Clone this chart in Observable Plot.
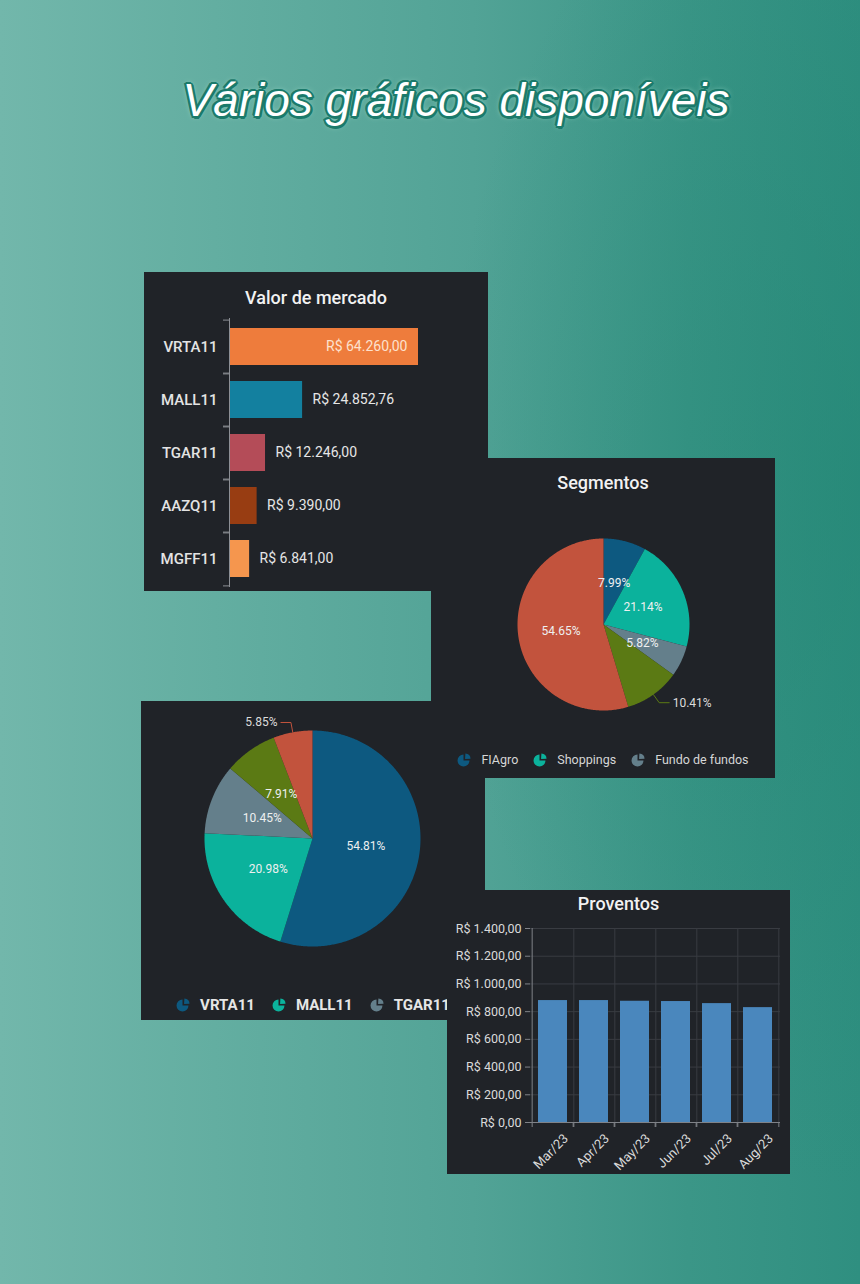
<!DOCTYPE html>
<html>
<head>
<meta charset="utf-8">
<script src="https://cdn.jsdelivr.net/npm/d3@7"></script>
<script src="https://cdn.jsdelivr.net/npm/@observablehq/plot@0.6"></script>
<style>
html, body { margin: 0; padding: 0; }
body {
  width: 860px; height: 1284px; position: relative; overflow: hidden;
  font-family: Roboto, "Noto Sans", sans-serif;
  background:
    radial-gradient(ellipse 420px 700px at 100% 38%, rgba(34,134,116,0.55), rgba(34,134,116,0) 100%),
    linear-gradient(90deg, #72b7ab 0%, #63aea1 25%, #52a396 55%, #3b9687 80%, #2f8f80 100%);
}
#title {
  position: absolute; top: 77px; left: 456px; transform: translateX(-50%);
  white-space: nowrap; font-family: "Liberation Sans", Arial, sans-serif; font-style: italic;
  font-size: 46px; line-height: 46px; color: #ffffff;
  text-shadow:
    2px 0 0 #1b7a6b, -2px 0 0 #1b7a6b, 0 2px 0 #1b7a6b, 0 -2px 0 #1b7a6b,
    1.5px 1.5px 0 #1b7a6b, -1.5px 1.5px 0 #1b7a6b, 1.5px -1.5px 0 #1b7a6b, -1.5px -1.5px 0 #1b7a6b,
    2.5px 1px 0 #1b7a6b, -2.5px -1px 0 #1b7a6b, 1px 2.5px 0 #1b7a6b, -1px -2.5px 0 #1b7a6b,
    0 0 6px rgba(170,225,212,0.95);
}
.panel { position: absolute; background: #202328; overflow: visible; }
.panel svg { position: absolute; left: 0; top: 0; overflow: visible; }
.ptitle { position: absolute; left: 0; width: 100%; text-align: center; color: #f2f2f2;
  font-family: Roboto, sans-serif; font-weight: 500; font-size: 18px; line-height: 18px; }
.legend { position: absolute; left: 0; width: 100%; display: flex; justify-content: center; align-items: center; }
.legend .item { display: flex; align-items: center; }
.legend svg { position: static; display: block; }
#p1 [aria-label="y-axis tick label"] text { font-weight: 500; }
</style>
</head>
<body>
<div id="title">Vários gráficos disponíveis</div>
<div class="panel" id="p1" style="left:144px;top:272px;width:344px;height:319px"></div>
<div class="panel" id="p3" style="left:141px;top:701px;width:344px;height:319px"></div>
<div class="panel" id="p2" style="left:431px;top:458px;width:344px;height:320px"></div>
<div class="panel" id="p4" style="left:447px;top:890px;width:343px;height:284px"></div>
<script>
// ---------------- data ----------------
const tickers = ["VRTA11", "MALL11", "TGAR11", "AAZQ11", "MGFF11"];
const marketValues = [64260.00, 24852.76, 12246.00, 9390.00, 6841.00];

const segmentNames = ["FIAgro", "Shoppings", "Fundo de fundos", "Híbrido", "Títulos e Val. Mob."];
const segmentShares = [7.99, 21.14, 5.82, 10.41, 54.65];
const segmentLegend = ["FIAgro", "Shoppings", "Fundo de fundos"];

const allocNames = ["VRTA11", "MALL11", "TGAR11", "AAZQ11", "MGFF11"];
const allocShares = [54.81, 20.98, 10.45, 7.91, 5.85];
const allocLegend = ["VRTA11", "MALL11", "TGAR11"];

const months = ["Mar/23", "Apr/23", "May/23", "Jun/23", "Jul/23", "Aug/23"];
const dividends = [880, 880, 875, 873, 858, 829];
const dividendTicks = [0, 200, 400, 600, 800, 1000, 1200, 1400];

// ---------------- helpers ----------------
const br = d3.formatLocale({decimal: ",", thousands: ".", grouping: [3], currency: ["R$ ", ""]});
const brl = br.format("$,.2f");
const pct = v => d3.format(".2f")(v) + "%";
const barColors = ["#ee7c3c", "#13809f", "#b44c58", "#983d12", "#f5964e"];
const pieColors = ["#0d5980", "#0bb29c", "#647f8b", "#5b7a14", "#c2533d"];
const baseStyle = {background: "transparent", color: "#e6e6e6", fontFamily: "Roboto, sans-serif", overflow: "visible"};

function addTitle(panel, text, top) {
  const t = document.createElement("div");
  t.className = "ptitle"; t.style.top = top + "px"; t.textContent = text;
  panel.appendChild(t);
}

function pieIcon(color, s) {
  const main = d3.arc()({innerRadius: 0, outerRadius: s * 0.46, startAngle: Math.PI / 2, endAngle: 2 * Math.PI});
  const wedge = d3.arc()({innerRadius: 0, outerRadius: s * 0.42, startAngle: 0.05, endAngle: Math.PI / 2 - 0.05});
  return `<svg width="${s}" height="${s}" viewBox="${-s / 2} ${-s / 2} ${s} ${s}"><path d="${main}" fill="${color}"/><path d="${wedge}" transform="translate(1.6,-1.6)" fill="${color}"/></svg>`;
}

function addLegend(panel, names, allNames, colors, opts) {
  const lg = document.createElement("div");
  lg.className = "legend";
  lg.style.top = opts.top + "px";
  lg.style.gap = opts.gap + "px";
  lg.innerHTML = names.map(n => {
    const c = colors[allNames.indexOf(n)];
    return `<div class="item">${pieIcon(c, opts.icon)}<span style="margin-left:${opts.pad}px;font-size:${opts.font}px;font-weight:${opts.weight};color:${opts.color};line-height:${opts.font}px">${n}</span></div>`;
  }).join("");
  panel.appendChild(lg);
}

function ring(a0, a1) {
  const n = Math.max(4, Math.ceil((a1 - a0) / 0.01));
  const pts = [[0, 0]];
  for (let k = 0; k <= n; k++) {
    const t = a0 + (a1 - a0) * k / n;
    pts.push([Math.sin(t), -Math.cos(t)]);
  }
  pts.push([0, 0]);
  return pts;
}

function pieChart({names, shares, colors, outside, r, width, height, cx, cy, fontSize}) {
  const arcs = d3.pie().sort(null).value(d => d)(shares);
  const rows = shares.map((v, i) => ({
    name: names[i], share: v,
    a0: arcs[i].startAngle, a1: arcs[i].endAngle,
    mid: (arcs[i].startAngle + arcs[i].endAngle) / 2
  }));
  const slices = rows.map(d => ({type: "Feature", properties: d, geometry: {type: "Polygon", coordinates: [ring(d.a0, d.a1)]}}));
  const inside = rows.filter(d => !outside.includes(d.name));
  const outs = rows.filter(d => outside.includes(d.name));
  const out1 = 1 + 10 / r, horiz = 10 / r, gap = 3.5 / r;
  const side = d => (Math.sin(d.mid) >= 0 ? 1 : -1);
  const elbow = d => [out1 * Math.sin(d.mid), -out1 * Math.cos(d.mid)];
  const leaders = outs.map(d => {
    const e = elbow(d);
    return {type: "Feature", properties: d, geometry: {type: "LineString",
      coordinates: [[Math.sin(d.mid), -Math.cos(d.mid)], e, [e[0] + side(d) * horiz, e[1]]]}};
  });
  const labelX = d => elbow(d)[0] + side(d) * (horiz + gap);
  const labelY = d => elbow(d)[1];
  return Plot.plot({
    width, height,
    marginLeft: cx - r, marginRight: width - cx - r, marginTop: cy - r, marginBottom: height - cy - r,
    style: baseStyle,
    projection: {type: "identity", domain: {type: "MultiPoint", coordinates: [[-1, -1], [1, 1]]}, clip: false},
    color: {domain: names, range: colors},
    marks: [
      Plot.geo(slices, {fill: d => d.properties.name}),
      Plot.text(inside, {x: d => 0.5 * Math.sin(d.mid), y: d => -0.5 * Math.cos(d.mid), text: d => pct(d.share), fill: "#eef0f0", fontSize}),
      Plot.geo(leaders, {stroke: d => d.properties.name, fill: "none", strokeWidth: 1}),
      Plot.text(outs.filter(d => side(d) > 0), {x: labelX, y: labelY, text: d => pct(d.share), textAnchor: "start", fill: "#dcdcdc", fontSize}),
      Plot.text(outs.filter(d => side(d) < 0), {x: labelX, y: labelY, text: d => pct(d.share), textAnchor: "end", fill: "#dcdcdc", fontSize})
    ]
  });
}

// ---------------- panel 1: Valor de mercado ----------------
{
  const panel = document.getElementById("p1");
  const rows = tickers.map((t, i) => ({ticker: t, value: marketValues[i]}));
  const maxV = d3.max(marketValues);
  const W = 344, H = 319, mt = 46, mb = 4;
  const step = (H - mt - mb) / tickers.length;
  const chart = Plot.plot({
    width: W, height: H,
    marginLeft: 85, marginRight: 70, marginTop: mt, marginBottom: mb,
    style: baseStyle,
    x: {domain: [0, maxV], axis: null},
    y: {domain: tickers, padding: 0, axis: null},
    color: {domain: tickers, range: barColors},
    marks: [
      Plot.barX(rows, {x: "value", y: "ticker", fill: "ticker", insetTop: 8, insetBottom: 8}),
      Plot.ruleX([0], {stroke: "#8c8f95"}),
      Plot.axisY({tickSize: 6, tickFormat: () => "", label: null, dy: -step / 2, stroke: "#8c8f95"}),
      Plot.axisY({tickSize: 6, tickFormat: () => "", label: null, dy: step / 2, stroke: "#8c8f95"}),
      Plot.axisY({tickSize: 0, tickPadding: 12, label: null, fontSize: 15, fill: "#e4e4e4"}),
      Plot.text(rows.filter(d => d.value === maxV), {x: "value", y: "ticker", text: d => brl(d.value), textAnchor: "end", dx: -11, fill: "#fde1cd", fontSize: 14}),
      Plot.text(rows.filter(d => d.value !== maxV), {x: "value", y: "ticker", text: d => brl(d.value), textAnchor: "start", dx: 10, fill: "#e6e6e6", fontSize: 14})
    ]
  });
  panel.appendChild(chart);
  addTitle(panel, "Valor de mercado", 17);
}

// ---------------- panel 2: Segmentos ----------------
{
  const panel = document.getElementById("p2");
  panel.appendChild(pieChart({names: segmentNames, shares: segmentShares, colors: pieColors,
    outside: ["Híbrido"], r: 86, width: 344, height: 320, cx: 172, cy: 166, fontSize: 12}));
  addTitle(panel, "Segmentos", 16);
  addLegend(panel, segmentLegend, segmentNames, pieColors, {top: 296, gap: 15, icon: 13, pad: 11, font: 12.5, weight: 400, color: "#d6d6d6"});
}

// ---------------- panel 3: alocação ----------------
{
  const panel = document.getElementById("p3");
  panel.appendChild(pieChart({names: allocNames, shares: allocShares, colors: pieColors,
    outside: ["MGFF11"], r: 108, width: 344, height: 319, cx: 171, cy: 137, fontSize: 12}));
  addLegend(panel, allocLegend, allocNames, pieColors, {top: 297, gap: 17, icon: 13, pad: 11, font: 15, weight: 700, color: "#e6e6e6"});
}

// ---------------- panel 4: Proventos ----------------
{
  const panel = document.getElementById("p4");
  const rows = months.map((m, i) => ({month: m, value: dividends[i]}));
  const W = 343, ml = 83, mr = 10;
  const step = (W - ml - mr) / months.length;
  const grid = "#393c42", axis = "#7f8288";
  const chart = Plot.plot({
    width: W, height: 284,
    marginLeft: ml, marginRight: mr, marginTop: 38, marginBottom: 52,
    style: baseStyle,
    x: {domain: months, padding: 0, axis: null},
    y: {domain: [0, 1400], axis: null},
    marks: [
      Plot.gridY(dividendTicks, {stroke: grid, strokeOpacity: 1}),
      Plot.gridX(months, {dx: step / 2, stroke: grid, strokeOpacity: 1}),
      Plot.barY(rows, {x: "month", y: "value", fill: "#4a87bd", insetLeft: 6, insetRight: 6}),
      Plot.ruleY([0], {stroke: axis}),
      Plot.ruleX([months[0]], {dx: -step / 2, stroke: axis}),
      Plot.axisY(dividendTicks, {tickSize: 5, tickPadding: 4, tickFormat: brl, label: null, fontSize: 12.5, fill: "#dadada", stroke: axis}),
      Plot.axisX({tickSize: 5, tickFormat: () => "", label: null, dx: -step / 2, stroke: axis}),
      Plot.axisX({tickSize: 5, tickFormat: () => "", label: null, dx: step / 2, stroke: axis}),
      Plot.axisX({tickSize: 0, tickPadding: 14, tickRotate: -45, label: null, dx: 13, fontSize: 13, fill: "#dadada"})
    ]
  });
  panel.appendChild(chart);
  addTitle(panel, "Proventos", 5);
}
</script>
</body>
</html>
